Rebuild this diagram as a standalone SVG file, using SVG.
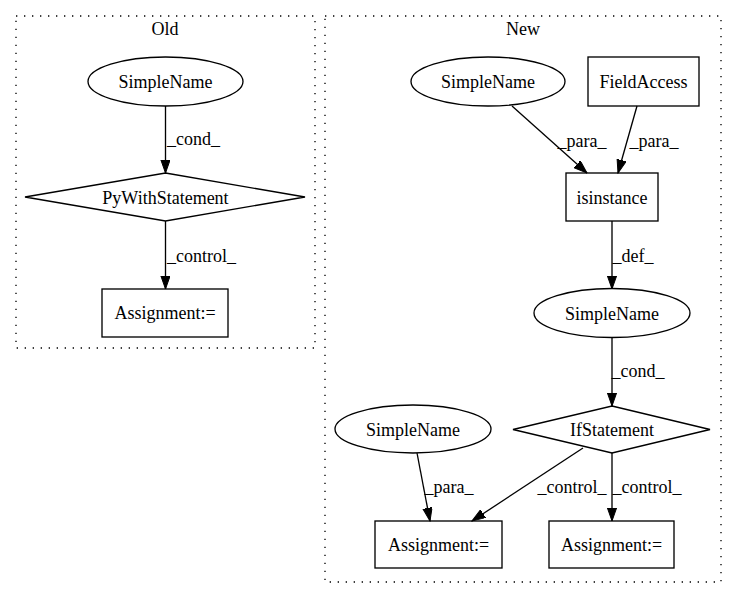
<svg xmlns="http://www.w3.org/2000/svg" width="737" height="596" viewBox="0 0 737 596">
<style>
text{font-family:"Liberation Serif","Times New Roman",serif;font-size:18px;fill:#000}
.n{text-anchor:middle}
.shape{fill:none;stroke:#000;stroke-width:1.33}
.cluster{fill:none;stroke:#000;stroke-width:1.33;stroke-dasharray:1.33,6.67}
.edge{fill:none;stroke:#000;stroke-width:1.33;marker-end:url(#arr)}
</style>
<defs>
<marker id="arr" markerUnits="userSpaceOnUse" markerWidth="14" markerHeight="10" refX="13.3" refY="4.7" orient="auto">
<path d="M0,0 L13.3,4.7 L0,9.4 z" fill="#000" stroke="#000" stroke-width="1"/>
</marker>
</defs>
<rect width="737" height="596" fill="#fff"/>
<g id="cluster_old">
<rect class="cluster" x="16" y="16" width="299" height="332"/>
<text class="n" x="165" y="35">Old</text>
</g>
<g id="cluster_new">
<rect class="cluster" x="325" y="16" width="396" height="566"/>
<text class="n" x="523" y="35">New</text>
</g>
<g id="connectors">
<path class="edge" d="M165.5,106 L165.5,173"/>
<text x="167" y="145">_cond_</text>
<path class="edge" d="M165.5,221 L165.5,289"/>
<text x="167" y="262">_control_</text>
<path class="edge" d="M512,106 L587,173"/>
<text class="n" x="582" y="147">_para_</text>
<path class="edge" d="M637,106 L618,173"/>
<text class="n" x="654" y="147">_para_</text>
<path class="edge" d="M612,221 L612,289"/>
<text class="n" x="633" y="262">_def_</text>
<path class="edge" d="M612,337 L612,406"/>
<text class="n" x="638" y="377">_cond_</text>
<path class="edge" d="M417,453 L430,521"/>
<text class="n" x="449" y="493">_para_</text>
<path class="edge" d="M583,448 L472,521"/>
<text class="n" x="572" y="493">_control_</text>
<path class="edge" d="M612,453 L612,521"/>
<text class="n" x="647" y="493">_control_</text>
</g>
<g id="old_simplename">
<ellipse class="shape" cx="165.5" cy="81.5" rx="77.5" ry="24.5"/>
<text class="n" x="165.5" y="88">SimpleName</text>
</g>
<g id="old_pywith">
<polygon class="shape" points="165.5,173 305,197 165.5,221 25,197"/>
<text class="n" x="165.5" y="203.5">PyWithStatement</text>
</g>
<g id="old_assign">
<rect class="shape" x="102" y="289" width="126" height="48"/>
<text class="n" x="165" y="319">Assignment:=</text>
</g>
<g id="new_simplename1">
<ellipse class="shape" cx="488" cy="81.5" rx="77" ry="24.5"/>
<text class="n" x="488" y="88">SimpleName</text>
</g>
<g id="new_fieldaccess">
<rect class="shape" x="588" y="57" width="111" height="49"/>
<text class="n" x="643.5" y="88">FieldAccess</text>
</g>
<g id="new_isinstance">
<rect class="shape" x="566" y="173" width="92" height="48"/>
<text class="n" x="612" y="203.5">isinstance</text>
</g>
<g id="new_simplename2">
<ellipse class="shape" cx="612" cy="313" rx="78" ry="24.5"/>
<text class="n" x="612" y="319.5">SimpleName</text>
</g>
<g id="new_ifstatement">
<polygon class="shape" points="612,406 710,429.5 612,453 513,429.5"/>
<text class="n" x="612" y="436">IfStatement</text>
</g>
<g id="new_simplename3">
<ellipse class="shape" cx="413" cy="429" rx="78" ry="24"/>
<text class="n" x="413" y="435.5">SimpleName</text>
</g>
<g id="new_assign1">
<rect class="shape" x="375" y="521" width="127" height="47"/>
<text class="n" x="438.5" y="551">Assignment:=</text>
</g>
<g id="new_assign2">
<rect class="shape" x="549" y="521" width="125" height="47"/>
<text class="n" x="611.5" y="551">Assignment:=</text>
</g>
</svg>
